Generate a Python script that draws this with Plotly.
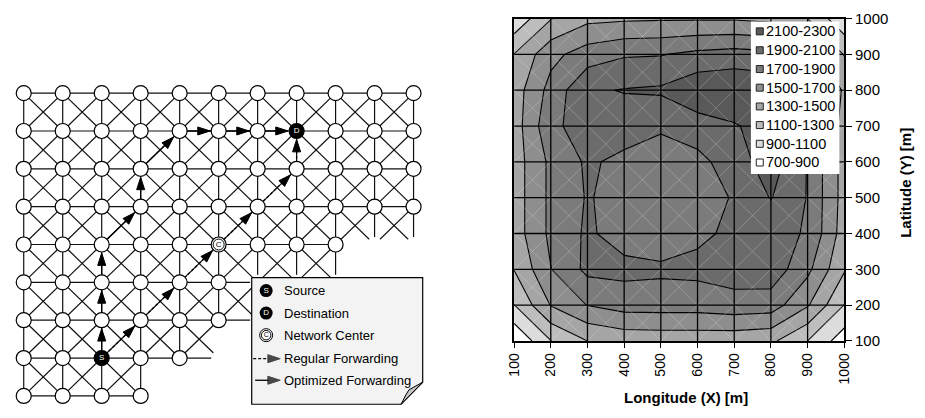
import plotly.graph_objects as go

W, H = 925, 418
FONT = "Liberation Sans, Arial, Helvetica, sans-serif"

# ---------------- mesh network (rows top→bottom, columns left→right) ----------------
ROW_SPANS = [(0, 10), (0, 10), (0, 10), (0, 10), (0, 8), (0, 5), (0, 5), (0, 4), (0, 3)]
NO_LINK = [((7, 4), (8, 3))]
# links that run off towards positions without a node
OPEN_LINKS = [((3, 8), (4, 9)), ((3, 9), (4, 9)), ((3, 9), (4, 10)), ((3, 10), (4, 10)), ((3, 10), (4, 9)),
              ((4, 5), (5, 6)), ((4, 6), (5, 6)), ((4, 6), (5, 7)), ((4, 7), (5, 6)), ((4, 7), (5, 7)),
              ((4, 7), (5, 8)), ((4, 8), (5, 7)), ((4, 8), (5, 8)),
              ((5, 5), (5, 6)), ((5, 5), (6, 6)), ((6, 5), (5, 6)), ((6, 5), (6, 6)),
              ((6, 4), (7, 5)), ((7, 4), (7, 5))]
SOURCE, DEST, CENTER = (7, 2), (1, 7), (4, 5)
REGULAR_PATH = [(7, 2), (6, 3), (5, 4), (4, 5), (3, 6), (2, 7), (1, 7)]
OPTIMIZED_PATH = [(7, 2), (6, 2), (5, 2), (4, 2), (3, 3), (2, 3), (1, 4), (1, 5), (1, 6), (1, 7)]
NET_LEGEND = ["Source", "Destination", "Network Center", "Regular Forwarding", "Optimized Forwarding"]

# ---------------- coverage surface (rows: latitude 100→1000, cols: longitude 100→1000) ----------------
X_M = [100, 200, 300, 400, 500, 600, 700, 800, 900, 1000]
Y_M = [100, 200, 300, 400, 500, 600, 700, 800, 900, 1000]
Z = [
    [715, 1095, 1300, 1370, 1378, 1378, 1370, 1340, 1100, 790],
    [1095, 1510, 1705, 1780, 1786, 1786, 1820, 1800, 1520, 1095],
    [1305, 1695, 1950, 1960, 1940, 1954, 2000, 2022, 1750, 1320],
    [1400, 1745, 1933, 1806, 1758, 1859, 1941, 1950, 1887, 1400],
    [1400, 1745, 1915, 1827, 1800, 1820, 1914, 2110, 1890, 1420],
    [1400, 1745, 1930, 1850, 1830, 1840, 2005, 2200, 1890, 1420],
    [1400, 1850, 2000, 1997, 1920, 2010, 2080, 2200, 1890, 1420],
    [1400, 1770, 2072, 2110, 2130, 2250, 2280, 2250, 1850, 1470],
    [1305, 1640, 1800, 1880, 1890, 1950, 1980, 1950, 1650, 1290],
    [950, 1290, 1450, 1470, 1480, 1480, 1480, 1450, 1300, 945],
]
LEVEL_START, LEVEL_END, LEVEL_STEP = 900, 2100, 200
BAND_LABELS = ["2100-2300", "1900-2100", "1700-1900", "1500-1700",
               "1300-1500", "1100-1300", "900-1100", "700-900"]
BAND_COLORS = ["#595959", "#6b6b6b", "#7b7b7b", "#8e8e8e",
               "#a5a5a5", "#bdbdbd", "#dcdcdc", "#ffffff"]

# ---------------- pixel frame ----------------
X0, DX = 16.0, 39.67
Y0, DY = 87.7, 39.45
NET_W = 440
PLOT_L, PLOT_R, PLOT_T, PLOT_B = 515, 851, 10, 346

fig = go.Figure()

real = {(r, c) for r, (a, b) in enumerate(ROW_SPANS) for c in range(a, b + 1)}
blocked = {frozenset(p) for p in NO_LINK}
links = []
for (r, c) in sorted(real):
    for dr, dc in ((0, 1), (1, 0), (1, 1), (1, -1)):
        n = (r + dr, c + dc)
        if n in real and frozenset(((r, c), n)) not in blocked:
            links.append(((r, c), n))
links += OPEN_LINKS
ex, ey = [], []
for a, b in links:
    ex += [a[1], b[1], None]
    ey += [a[0], b[0], None]
fig.add_trace(go.Scatter(x=ex, y=ey, mode="lines", line=dict(color="#111111", width=1.2),
                         hoverinfo="skip", xaxis="x", yaxis="y"))

ghosts = sorted({b for _, b in OPEN_LINKS if b not in real})
fig.add_trace(go.Scatter(x=[g[1] for g in ghosts], y=[g[0] for g in ghosts], mode="markers",
                         marker=dict(size=15, color="white", line=dict(width=0)),
                         hoverinfo="skip", xaxis="x", yaxis="y"))


def path_trace(path, dash):
    return go.Scatter(
        x=[p[1] for p in path], y=[p[0] for p in path], mode="lines+markers",
        line=dict(color="black", width=1.3, dash=dash),
        marker=dict(symbol="arrow", size=[0] + [13] * (len(path) - 1), color="#000000", opacity=1,
                    angleref="previous", standoff=8.5, line=dict(width=1, color="#000000")),
        hoverinfo="skip", xaxis="x", yaxis="y")


fig.add_trace(path_trace(REGULAR_PATH, "3px,2px"))
fig.add_trace(path_trace(OPTIMIZED_PATH, "solid"))

plain = [n for n in sorted(real) if n not in (SOURCE, DEST, CENTER)]
fig.add_trace(go.Scatter(x=[n[1] for n in plain], y=[n[0] for n in plain], mode="markers",
                         marker=dict(size=15, color="white", line=dict(color="black", width=1.2)),
                         hoverinfo="skip", xaxis="x", yaxis="y"))
fig.add_trace(go.Scatter(x=[SOURCE[1], DEST[1]], y=[SOURCE[0], DEST[0]], mode="markers+text",
                         text=["S", "D"], textposition="middle center",
                         textfont=dict(color="white", size=8, family=FONT),
                         marker=dict(size=15, color="black", line=dict(color="black", width=1.2)),
                         hoverinfo="skip", xaxis="x", yaxis="y"))
fig.add_trace(go.Scatter(x=[CENTER[1]], y=[CENTER[0]], mode="markers",
                         marker=dict(size=15, color="white", line=dict(color="black", width=1.2)),
                         hoverinfo="skip", xaxis="x", yaxis="y"))
fig.add_trace(go.Scatter(x=[CENTER[1]], y=[CENTER[0]], mode="markers+text", text=["C"],
                         textposition="middle center", textfont=dict(color="black", size=8, family=FONT),
                         marker=dict(size=11, color="white", line=dict(color="black", width=1)),
                         hoverinfo="skip", xaxis="x", yaxis="y"))

# ---------------- contour map ----------------
n_lv = (LEVEL_END - LEVEL_START) // LEVEL_STEP + 1
colors_lo_hi = BAND_COLORS[::-1]
cscale = [[k / n_lv, colors_lo_hi[k]] for k in range(n_lv + 1)]
fig.add_trace(go.Contour(
    x=X_M, y=Y_M, z=Z, xaxis="x2", yaxis="y2",
    contours=dict(start=LEVEL_START, end=LEVEL_END, size=LEVEL_STEP, coloring="fill"),
    colorscale=cscale, showscale=False, line=dict(color="black", width=1.1, smoothing=0),
    hoverinfo="skip"))

# light triangulation diagonals across every cell
dx_, dy_ = [], []
for i in range(len(X_M) - 1):
    for j in range(len(Y_M) - 1):
        dx_ += [X_M[i], X_M[i + 1], None, X_M[i], X_M[i + 1], None]
        dy_ += [Y_M[j], Y_M[j + 1], None, Y_M[j + 1], Y_M[j], None]
fig.add_trace(go.Scatter(x=dx_, y=dy_, mode="lines", line=dict(color="rgba(255,255,255,0.28)", width=0.8),
                         hoverinfo="skip", xaxis="x2", yaxis="y2"))
gx, gy = [], []
for v in X_M[1:-1]:
    gx += [v, v, None]
    gy += [Y_M[0], Y_M[-1], None]
for v in Y_M[1:-1]:
    gx += [X_M[0], X_M[-1], None]
    gy += [v, v, None]
fig.add_trace(go.Scatter(x=gx, y=gy, mode="lines", line=dict(color="black", width=1.3),
                         hoverinfo="skip", xaxis="x2", yaxis="y2"))

# ---------------- legends (pixel overlay) ----------------
LB_L, LB_R, LB_T, LB_B, CURL = 248, 422, 280, 412, 23
fig.add_trace(go.Scatter(
    x=[LB_L, LB_R, LB_R, LB_R - CURL + 1, LB_L, LB_L],
    y=[LB_T, LB_T, LB_B - CURL, LB_B, LB_B, LB_T],
    mode="lines", fill="toself", fillcolor="#f3f3f3", line=dict(color="black", width=1.2),
    hoverinfo="skip", xaxis="x3", yaxis="y3"))
fig.add_trace(go.Scatter(
    x=[LB_R, LB_R - CURL + 1, LB_R - CURL + 6, LB_R - CURL + 9, LB_R],
    y=[LB_B - CURL, LB_B, LB_B - 10, LB_B - 15, LB_B - CURL],
    mode="lines", fill="toself", fillcolor="#c4c4c4", line=dict(color="black", width=1),
    hoverinfo="skip", xaxis="x3", yaxis="y3"))

ICON_X, TEXT_X = 262.7, 278.5
ROW_Y = [293.5, 317, 340, 364.5, 387]
fig.add_trace(go.Scatter(x=[ICON_X, ICON_X], y=ROW_Y[:2], mode="markers+text", text=["S", "D"],
                         textposition="middle center", textfont=dict(color="white", size=8, family=FONT),
                         marker=dict(size=13, color="black"), hoverinfo="skip", xaxis="x3", yaxis="y3"))
fig.add_trace(go.Scatter(x=[ICON_X], y=[ROW_Y[2]], mode="markers",
                         marker=dict(size=13, color="white", line=dict(color="black", width=1)),
                         hoverinfo="skip", xaxis="x3", yaxis="y3"))
fig.add_trace(go.Scatter(x=[ICON_X], y=[ROW_Y[2]], mode="markers+text", text=["C"],
                         textposition="middle center", textfont=dict(color="black", size=7, family=FONT),
                         marker=dict(size=9.5, color="white", line=dict(color="black", width=1)),
                         hoverinfo="skip", xaxis="x3", yaxis="y3"))
for yy, x_start, dash in ((ROW_Y[3], 249.5, "3px,2px"), (ROW_Y[4], 251.5, "solid")):
    fig.add_trace(go.Scatter(x=[x_start, 277], y=[yy, yy], mode="lines+markers",
                             line=dict(color="black", width=1.3, dash=dash),
                             marker=dict(symbol="arrow", size=[0, 13], color="#000000",
                                         angleref="previous", line=dict(width=1, color="#000000")),
                             hoverinfo="skip", xaxis="x3", yaxis="y3"))

annotations = []
for label, yy in zip(NET_LEGEND, ROW_Y):
    annotations.append(dict(x=TEXT_X, y=yy, xref="x3", yref="y3", text=label, showarrow=False,
                            xanchor="left", yanchor="middle",
                            font=dict(family=FONT, size=13, color="black")))

RB_L, RB_R, RB_T, RB_B = 756, 846, 13, 172
fig.add_trace(go.Scatter(x=[RB_L, RB_R, RB_R, RB_L, RB_L], y=[RB_T, RB_T, RB_B, RB_B, RB_T],
                         mode="lines", fill="toself", fillcolor="white", line=dict(width=0, color="white"),
                         hoverinfo="skip", xaxis="x3", yaxis="y3"))
SW_Y = [23.3, 43.0, 62.6, 82.0, 101.6, 121.0, 140.5, 160.0]
fig.add_trace(go.Scatter(x=[765] * len(SW_Y), y=SW_Y, mode="markers",
                         marker=dict(symbol="square", size=7, color=BAND_COLORS,
                                     line=dict(color="#222222", width=1)),
                         hoverinfo="skip", xaxis="x3", yaxis="y3"))
for label, yy in zip(BAND_LABELS, SW_Y):
    annotations.append(dict(x=769.5, y=yy, xref="x3", yref="y3", text=label, showarrow=False,
                            xanchor="left", yanchor="middle",
                            font=dict(family=FONT, size=14.5, color="black")))

annotations.append(dict(x=690, y=405, xref="x3", yref="y3", text="<b>Longitude (X) [m]</b>",
                        showarrow=False, xanchor="center", yanchor="middle",
                        font=dict(family=FONT, size=15, color="black")))
annotations.append(dict(x=913, y=181, xref="x3", yref="y3", text="<b>Latitude (Y) [m]</b>",
                        showarrow=False, textangle=-90, xanchor="center", yanchor="middle",
                        font=dict(family=FONT, size=15, color="black")))

axis_common = dict(showgrid=False, zeroline=False, fixedrange=True)
fig.update_layout(
    width=W, height=H, margin=dict(l=0, r=0, t=0, b=0, pad=0),
    paper_bgcolor="white", plot_bgcolor="rgba(0,0,0,0)", showlegend=False,
    font=dict(family=FONT, color="black"),
    xaxis=dict(domain=[0, NET_W / W], range=[-X0 / DX, (NET_W - X0) / DX], visible=False,
               anchor="y", **axis_common),
    yaxis=dict(domain=[0, 1], range=[(H - Y0) / DY, -Y0 / DY], visible=False, anchor="x",
               **axis_common),
    xaxis2=dict(domain=[PLOT_L / W, PLOT_R / W], range=[X_M[0], X_M[-1]], anchor="y2",
                tickvals=X_M, ticktext=[str(v) for v in X_M], tickangle=-90,
                ticks="outside", ticklen=5, tickcolor="black", tickfont=dict(size=14, family=FONT),
                showline=True, mirror=True, linecolor="black", linewidth=1.5, layer="above traces",
                **axis_common),
    yaxis2=dict(domain=[1 - PLOT_B / H, 1 - PLOT_T / H], range=[Y_M[0], Y_M[-1]], anchor="x2",
                side="right", tickvals=Y_M, ticktext=[str(v) for v in Y_M],
                ticks="outside", ticklen=6, tickcolor="black", tickfont=dict(size=15, family=FONT),
                showline=True, mirror=True, linecolor="black", linewidth=1.5, layer="above traces",
                **axis_common),
    xaxis3=dict(domain=[0, 1], range=[0, W], anchor="y3", visible=False, **axis_common),
    yaxis3=dict(domain=[0, 1], range=[H, 0], anchor="x3", visible=False, **axis_common),
    annotations=annotations,
)

fig.write_html("out.html")
